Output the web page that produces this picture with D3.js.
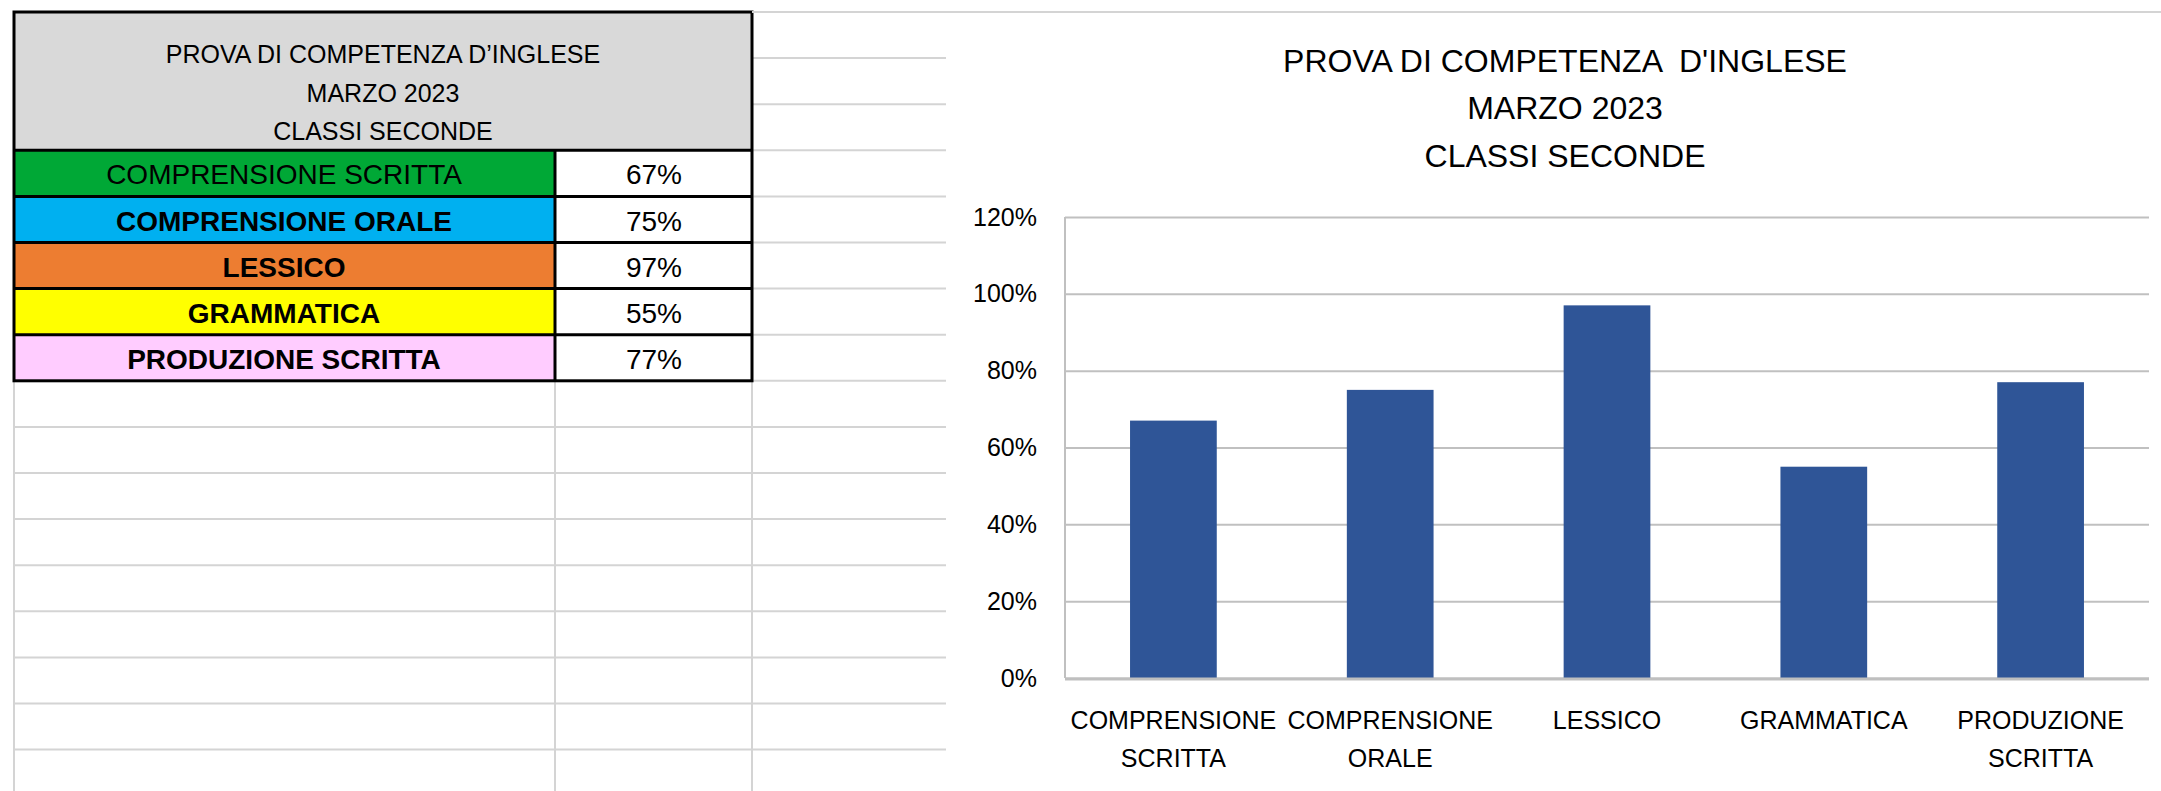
<!DOCTYPE html>
<meta charset="utf-8">
<head>
  <title>Prova di competenza d'inglese</title>
</head>

<style>
body {
  margin: 0;
  background: #fff;
}
svg text {
  font-family: "Liberation Sans Narrow", "Arial Narrow", "Liberation Sans", sans-serif;
  fill: #000;
}
.axis .domain { display: none; }
.grid line { stroke: #c0c0c0; stroke-width: 2px; }
</style>

<body>
  <svg width="2161" height="791"></svg>

  <script src="https://cdnjs.cloudflare.com/ajax/libs/d3/7.8.5/d3.min.js"></script>

  <script>
  // data
  var titleLines = ["PROVA DI COMPETENZA D\u2019INGLESE", "MARZO 2023", "CLASSI SECONDE"];
  var chartTitle = ["PROVA DI COMPETENZA  D'INGLESE", "MARZO 2023", "CLASSI SECONDE"];
  var categories = ["COMPRENSIONE SCRITTA", "COMPRENSIONE ORALE", "LESSICO", "GRAMMATICA", "PRODUZIONE SCRITTA"];
  var scores = [0.67, 0.75, 0.97, 0.55, 0.77];
  var yTicks = [0, 0.2, 0.4, 0.6, 0.8, 1.0, 1.2];

  // cell colours, one per category row
  var rowColors = ["#00a836", "#00b0f0", "#ed7d31", "#ffff00", "#ffccff"];
  var rowBold = [false, true, true, true, true];

  var svg = d3.select('svg');
  var pct = d3.format('.0%');

  // ---- spreadsheet grid behind everything ----
  var rowH = 46.1, topY = 12;
  var colX = [14, 555, 752];
  var sheet = svg.append('g').attr('class', 'sheet');
  var rows = d3.range(0, 17);
  sheet.selectAll('line.h')
    .data(rows)
    .enter()
    .append('line')
    .attr('x1', function(d) { return d < 8 ? 752 : 14; })
    .attr('x2', 946)
    .attr('y1', function(d) { return topY + d * rowH; })
    .attr('y2', function(d) { return topY + d * rowH; })
    .style('stroke', '#d4d4d4')
    .style('stroke-width', 2);
  sheet.selectAll('line.v')
    .data(colX)
    .enter()
    .append('line')
    .attr('x1', function(d) { return d; })
    .attr('x2', function(d) { return d; })
    .attr('y1', topY + 8 * rowH)
    .attr('y2', 791)
    .style('stroke', '#d4d4d4')
    .style('stroke-width', 2);

  // ---- table ----
  var table = svg.append('g').attr('class', 'table');
  table.append('rect')
    .attr('x', 14).attr('y', topY)
    .attr('width', 752 - 14).attr('height', 3 * rowH)
    .style('fill', '#d9d9d9');
  table.selectAll('text.head')
    .data(titleLines)
    .enter()
    .append('text')
    .attr('x', (14 + 752) / 2)
    .attr('y', function(d, i) { return 54 + i * 38.5; })
    .attr('dy', '0.36em')
    .attr('text-anchor', 'middle')
    .style('font-size', '25px')
    .text(function(d) { return d; });

  var r = table.selectAll('g.row')
    .data(categories)
    .enter()
    .append('g')
    .attr('transform', function(d, i) { return 'translate(0,' + (topY + (3 + i) * rowH) + ')'; });
  r.append('rect')
    .attr('x', 14).attr('width', 555 - 14).attr('height', rowH)
    .style('fill', function(d, i) { return rowColors[i]; });
  r.append('rect')
    .attr('x', 555).attr('width', 752 - 555).attr('height', rowH)
    .style('fill', '#fff');
  r.append('text')
    .attr('x', 284)
    .attr('y', rowH / 2 + 1)
    .attr('dy', '0.36em')
    .attr('text-anchor', 'middle')
    .style('font-size', '28px')
    .style('font-weight', function(d, i) { return rowBold[i] ? 'bold' : 'normal'; })
    .text(function(d) { return d; });
  r.append('text')
    .attr('x', 654)
    .attr('y', rowH / 2 + 1)
    .attr('dy', '0.36em')
    .attr('text-anchor', 'middle')
    .style('font-size', '28px')
    .text(function(d, i) { return pct(scores[i]); });

  // table borders
  var tb = table.append('g').style('stroke', '#000').style('stroke-width', 3).style('fill', 'none');
  tb.append('rect').attr('x', 14).attr('y', topY).attr('width', 752 - 14).attr('height', 8 * rowH);
  d3.range(3, 8).forEach(function(k) {
    tb.append('line').attr('x1', 14).attr('x2', 752)
      .attr('y1', topY + k * rowH).attr('y2', topY + k * rowH);
  });
  tb.append('line').attr('x1', 555).attr('x2', 555)
    .attr('y1', topY + 3 * rowH).attr('y2', topY + 8 * rowH);

  // ---- chart object ----
  var chart = svg.append('g').attr('class', 'chart');
  chart.append('rect')
    .attr('x', 946).attr('y', topY)
    .attr('width', 2161 - 946).attr('height', 791 - topY)
    .style('fill', '#fff');
  chart.append('line')
    .attr('x1', 752).attr('x2', 2161).attr('y1', topY).attr('y2', topY)
    .style('stroke', '#d4d4d4').style('stroke-width', 2);

  chart.selectAll('text.title')
    .data(chartTitle)
    .enter()
    .append('text')
    .attr('x', 1565)
    .attr('y', function(d, i) { return 60 + i * 47.5; })
    .attr('dy', '0.36em')
    .attr('text-anchor', 'middle')
    .style('font-size', '32px')
    .style('white-space', 'pre')
    .text(function(d) { return d; });

  var plot = { left: 1065, right: 2149, top: 217, bottom: 678 };

  var x = d3.scaleBand()
    .domain(categories)
    .range([plot.left, plot.right])
    .paddingInner(0.6)
    .paddingOuter(0.3);

  var y = d3.scaleLinear()
    .domain([0, 1.2])
    .range([plot.bottom, plot.top]);

  var yAxis = chart.append('g')
    .attr('class', 'axis grid')
    .attr('transform', 'translate(' + plot.left + ',0)')
    .call(d3.axisLeft(y)
      .tickValues(yTicks)
      .tickFormat(pct)
      .tickSize(-(plot.right - plot.left))
      .tickPadding(28));
  yAxis.selectAll('text')
    .style('font-size', '25px');

  // left axis line
  chart.append('line')
    .attr('x1', plot.left).attr('x2', plot.left)
    .attr('y1', plot.top).attr('y2', plot.bottom)
    .style('stroke', '#c0c0c0').style('stroke-width', 2);

  chart.selectAll('rect.bar')
    .data(categories)
    .enter()
    .append('rect')
    .attr('class', 'bar')
    .attr('x', function(d) { return x(d); })
    .attr('width', x.bandwidth())
    .attr('y', function(d, i) { return y(scores[i]); })
    .attr('height', function(d, i) { return y(0) - y(scores[i]); })
    .style('fill', '#2f5597');

  // baseline
  chart.append('line')
    .attr('x1', plot.left).attr('x2', plot.right)
    .attr('y1', y(0) + 1).attr('y2', y(0) + 1)
    .style('stroke', '#bfbfbf').style('stroke-width', 3);

  var xAxis = chart.append('g')
    .attr('class', 'axis')
    .attr('transform', 'translate(0,' + plot.bottom + ')')
    .call(d3.axisBottom(x).tickSize(0).tickFormat(''));
  xAxis.selectAll('.tick text').remove();
  xAxis.selectAll('.tick')
    .append('text')
    .attr('text-anchor', 'middle')
    .style('font-size', '25px')
    .each(function(d) {
      var words = d.split(' ');
      var t = d3.select(this);
      words.forEach(function(w, i) {
        t.append('tspan')
          .attr('x', 0)
          .attr('y', 42 + i * 38)
          .attr('dy', '0.36em')
          .text(w);
      });
    });

  </script>
</body>
</html>
